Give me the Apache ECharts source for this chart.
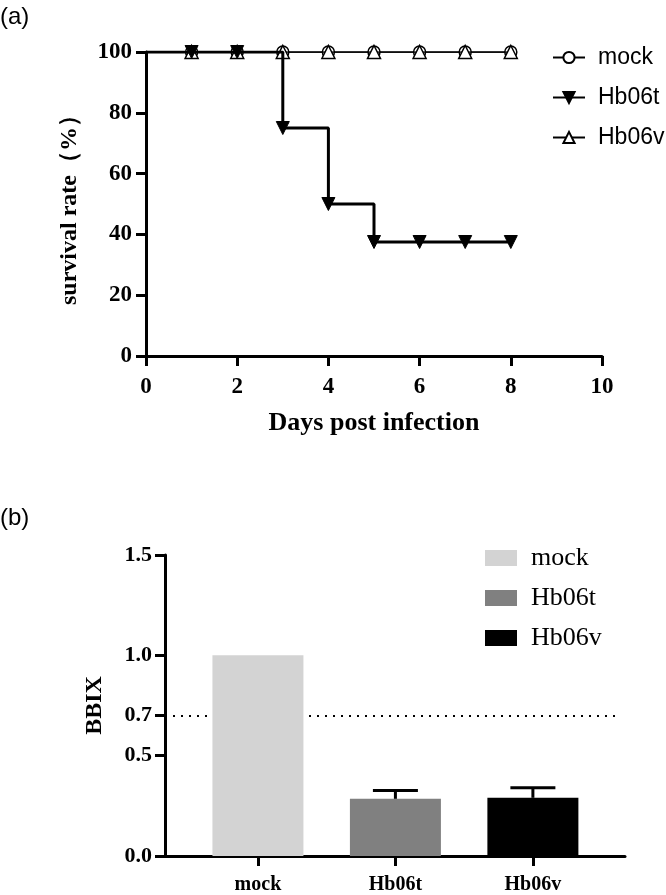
<!DOCTYPE html>
<html>
<head>
<meta charset="utf-8">
<script src="https://cdn.jsdelivr.net/npm/echarts@6/dist/echarts.min.js"></script>
<style>
html,body{margin:0;padding:0;background:#fff;}
#main{width:666px;height:895px;}
</style>
</head>
<body>
<div id="main"></div>
<script>
// ---- Panel (a): survival ----
const days = [0, 1, 2, 3, 4, 5, 6, 7, 8];
const mockSurvival = [100, 100, 100, 100, 100, 100, 100, 100, 100];
const hb06tSurvival = [100, 100, 100, 75, 50, 37.5, 37.5, 37.5, 37.5];
const hb06vSurvival = [100, 100, 100, 100, 100, 100, 100, 100, 100];
const survivalNames = ['mock', 'Hb06t', 'Hb06v'];

// ---- Panel (b): BBIX ----
const bbixCategories = ['mock', 'Hb06t', 'Hb06v'];
const bbixValues = [1.0, 0.285, 0.29];
const bbixErrors = [0, 0.042, 0.05];
const bbixThreshold = 0.7;
const bbixTicks = [0, 0.5, 0.7, 1.0, 1.5];
const barColors = ['#d3d3d3', '#808080', '#000000'];

const SERIF = '"Liberation Serif","Times New Roman",serif';
const SANS = '"Liberation Sans",Arial,sans-serif';

function pts(vals) {
  return days.map((d, i) => (d === 0 ? { value: [d, vals[i]], symbol: 'none' } : [d, vals[i]]));
}

const chart = echarts.init(document.getElementById('main'), null, { renderer: 'canvas' });

const axisLabelBold = { fontFamily: SERIF, fontWeight: 'bold', fontSize: 23, color: '#000' };

const option = {
  backgroundColor: '#fff',
  animation: false,
  graphic: [
    { type: 'text', left: 0, top: 5, style: { text: '(a)', font: '24px ' + SANS, fill: '#000' } },
    { type: 'text', left: 0, top: 506, style: { text: '(b)', font: '24px ' + SANS, fill: '#000' } }
  ],
  legend: [
    {
      orient: 'vertical', left: 547, top: 41, itemWidth: 32, itemHeight: 14, itemGap: 17,
      data: survivalNames,
      textStyle: { fontFamily: SANS, fontSize: 23, color: '#000', padding: [0, 0, 0, 8] }
    },
    {
      orient: 'vertical', left: 480, top: 540, itemWidth: 32, itemHeight: 16, itemGap: 14,
      icon: 'rect',
      data: bbixCategories.map(n => n + ' '),
      textStyle: { fontFamily: SERIF, fontSize: 26, color: '#000', padding: [0, 0, 0, 9] }
    }
  ],
  grid: [
    { left: 146, right: 64, top: 52, height: 304 },
    { left: 165, right: 41, top: 555, height: 303 }
  ],
  xAxis: [
    {
      gridIndex: 0, type: 'value', min: 0, max: 10, interval: 2,
      name: 'Days post infection', nameLocation: 'middle', nameGap: 54,
      nameTextStyle: { fontFamily: SERIF, fontWeight: 'bold', fontSize: 26, color: '#000' },
      axisLine: { lineStyle: { color: '#000', width: 3 } },
      axisTick: { show: true, length: 10, lineStyle: { color: '#000', width: 3 } },
      axisLabel: Object.assign({ margin: 20 }, axisLabelBold),
      splitLine: { show: false }
    },
    {
      gridIndex: 1, type: 'value', min: -0.676, max: 2.67,
      axisLine: { onZero: false, lineStyle: { color: '#000', width: 3 } },
      axisTick: { show: true, length: 10, customValues: [0, 1, 2], lineStyle: { color: '#000', width: 3 } },
      axisLabel: {
        customValues: [0, 1, 2], margin: 19,
        formatter: v => bbixCategories[Math.round(v)] || '',
        fontFamily: SERIF, fontWeight: 'bold', fontSize: 20, color: '#000'
      },
      splitLine: { show: false }
    }
  ],
  yAxis: [
    {
      gridIndex: 0, type: 'value', min: 0, max: 100, interval: 20,
      name: 'survival rate（%）', nameLocation: 'middle', nameGap: 64,
      nameTextStyle: { fontFamily: SERIF, fontWeight: 'bold', fontSize: 24, color: '#000' },
      axisLine: { show: true, lineStyle: { color: '#000', width: 3 } },
      axisTick: { show: true, length: 10, lineStyle: { color: '#000', width: 3 } },
      axisLabel: Object.assign({ margin: 14 }, axisLabelBold),
      splitLine: { show: false }
    },
    {
      gridIndex: 1, type: 'value', min: 0, max: 1.5,
      name: 'BBIX', nameLocation: 'middle', nameGap: 58,
      nameTextStyle: { fontFamily: SERIF, fontWeight: 'bold', fontSize: 24, color: '#000' },
      axisLine: { show: true, onZero: false, lineStyle: { color: '#000', width: 3 } },
      axisTick: { show: true, length: 10, customValues: bbixTicks, lineStyle: { color: '#000', width: 3 } },
      axisLabel: {
        customValues: bbixTicks, margin: 13,
        formatter: v => Number(v).toFixed(1),
        fontFamily: SERIF, fontWeight: 'bold', fontSize: 22, color: '#000'
      },
      splitLine: { show: false }
    }
  ],
  series: [
    {
      name: 'mock', type: 'line', xAxisIndex: 0, yAxisIndex: 0, z: 3,
      data: pts(mockSurvival),
      symbol: 'circle', symbolSize: 12, showAllSymbol: true,
      lineStyle: { color: '#000', width: 1.5 },
      itemStyle: { color: '#fff', borderColor: '#000', borderWidth: 1.5 }
    },
    {
      name: 'Hb06v', type: 'line', xAxisIndex: 0, yAxisIndex: 0, z: 4,
      data: pts(hb06vSurvival),
      symbol: 'triangle', symbolSize: 13, showAllSymbol: true,
      lineStyle: { color: '#000', width: 1.5 },
      itemStyle: { color: '#fff', borderColor: '#000', borderWidth: 1.5 }
    },
    {
      name: 'Hb06t', type: 'line', xAxisIndex: 0, yAxisIndex: 0, z: 5, step: 'end',
      data: pts(hb06tSurvival),
      symbol: 'triangle', symbolRotate: 180, symbolSize: 13, showAllSymbol: true,
      lineStyle: { color: '#000', width: 3 },
      itemStyle: { color: '#000', borderColor: '#000', borderWidth: 1 }
    },
    {
      name: 'threshold', type: 'line', xAxisIndex: 1, yAxisIndex: 1, z: 1,
      data: [], silent: true,
      markLine: {
        silent: true, symbol: 'none', z: 1,
        label: { show: false },
        lineStyle: { color: '#000', width: 2, type: [2, 6] },
        data: [[{ coord: [-0.676, bbixThreshold] }, { coord: [2.61, bbixThreshold] }]]
      }
    },
    ...bbixCategories.map((c, i) => ({
      name: c + ' ', type: 'bar', xAxisIndex: 1, yAxisIndex: 1, z: 5,
      barWidth: 91, barGap: '-100%',
      data: [[i, bbixValues[i]]],
      itemStyle: { color: barColors[i] }
    })),
    {
      name: 'err', type: 'custom', xAxisIndex: 1, yAxisIndex: 1, z: 6,
      data: bbixCategories.map((c, i) => [i, bbixValues[i], bbixValues[i] + bbixErrors[i]]).filter((d, i) => bbixErrors[i] > 0),
      renderItem: function (params, api) {
        const base = api.coord([api.value(0), api.value(1)]);
        const top = api.coord([api.value(0), api.value(2)]);
        const hw = 22.5;
        return {
          type: 'group',
          children: [
            { type: 'line', shape: { x1: base[0], y1: base[1], x2: top[0], y2: top[1] }, style: { stroke: '#000', lineWidth: 3 } },
            { type: 'line', shape: { x1: top[0] - hw, y1: top[1], x2: top[0] + hw, y2: top[1] }, style: { stroke: '#000', lineWidth: 3 } }
          ]
        };
      }
    }
  ]
};
chart.setOption(option);
</script>
</body>
</html>
